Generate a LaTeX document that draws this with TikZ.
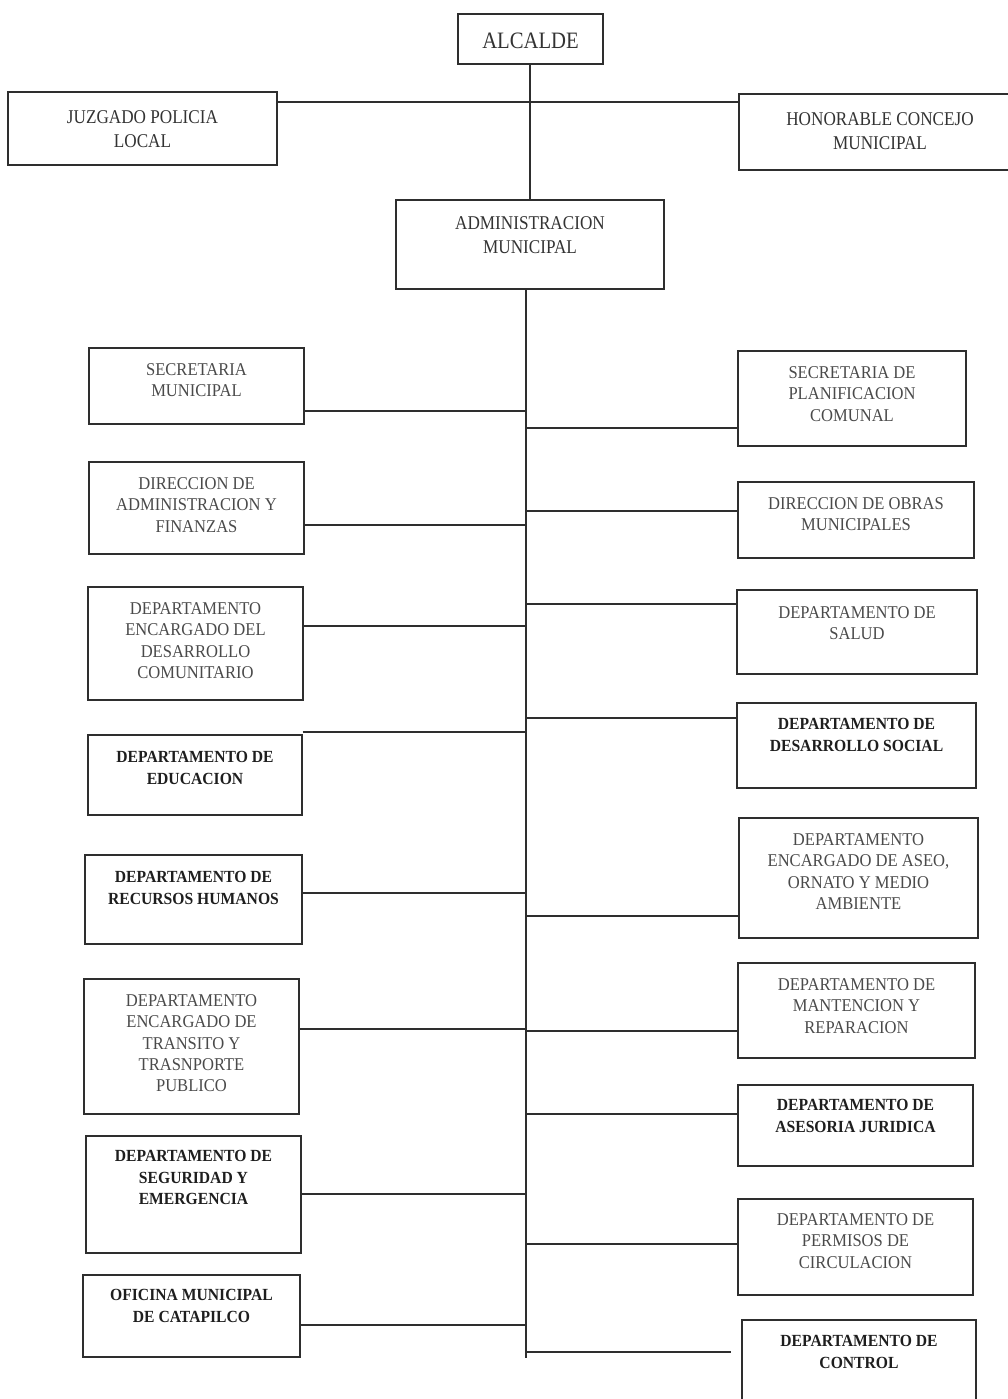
\documentclass[tikz,border=0pt]{standalone}
\usepackage{fontspec}
\setmainfont{Liberation Serif}
\newfontfamily\condfont[FakeStretch=0.88]{Liberation Serif}
\newfontfamily\narrowfont[FakeStretch=0.92]{Liberation Serif}
\definecolor{linec}{HTML}{2E2E2E}
\definecolor{regtext}{HTML}{4A4A4A}
\definecolor{boldtext}{HTML}{1E1E1E}
\definecolor{toptext}{HTML}{333333}
\newcommand\regf{\color{regtext}\narrowfont\fontsize{18}{21.3}\selectfont}
\newcommand\bldf{\color{boldtext}\narrowfont\fontsize{17}{21.3}\selectfont\bfseries}
\newcommand\topf{\color{toptext}\condfont\fontsize{19.5}{24.5}\selectfont}
\newcommand\bigtopf{\color{toptext}\condfont\fontsize{23.5}{27}\selectfont}
\tikzset{
  orgbox/.style={draw=linec, line width=1.4pt, inner sep=0pt, rectangle},
  link/.style={draw=linec, line width=1.3pt},
}
% name, x1, y1, x2, y2, top gap, font, text
\newcommand\orgnode[8]{%
  \node[orgbox] (#1) at ({(#2+#4)/2},{(#3+#5)/2})
    {\parbox[c][\dimexpr #5pt-#3pt\relax][t]{\dimexpr #4pt-#2pt\relax}{#7\centering\vspace*{#6pt}#8\par}};}
\begin{document}
\begin{tikzpicture}[x=1pt,y=-1pt]
\useasboundingbox (0,0) rectangle (1007,1399);
% top level
\orgnode{alc}{458}{14}{603}{64}{19}{\bigtopf}{ALCALDE}
\orgnode{juz}{8}{92}{277}{165}{18.5}{\topf}{JUZGADO POLICIA\\LOCAL}
\orgnode{hon}{739}{94}{1021}{170}{18.5}{\topf}{HONORABLE CONCEJO\\MUNICIPAL}
\orgnode{adm}{396}{200}{664}{289}{16.5}{\topf}{ADMINISTRACION\\MUNICIPAL}
% left column
\orgnode{l1}{89}{348}{304}{424}{15.5}{\regf}{SECRETARIA\\MUNICIPAL}
\orgnode{l2}{89}{462}{304}{554}{15.5}{\regf}{DIRECCION DE\\ADMINISTRACION Y\\FINANZAS}
\orgnode{l3}{88}{587}{303}{700}{15.5}{\regf}{DEPARTAMENTO\\ENCARGADO DEL\\DESARROLLO\\COMUNITARIO}
\orgnode{l4}{88}{735}{302}{815}{16.5}{\bldf}{DEPARTAMENTO DE\\EDUCACION}
\orgnode{l5}{85}{855}{302}{944}{16.5}{\bldf}{DEPARTAMENTO DE\\RECURSOS HUMANOS}
\orgnode{l6}{84}{979}{299}{1114}{15.5}{\regf}{DEPARTAMENTO\\ENCARGADO DE\\TRANSITO Y\\TRASNPORTE\\PUBLICO}
\orgnode{l7}{86}{1136}{301}{1253}{14.5}{\bldf}{DEPARTAMENTO DE\\SEGURIDAD Y\\EMERGENCIA}
\orgnode{l8}{83}{1275}{300}{1357}{14.5}{\bldf}{OFICINA MUNICIPAL\\DE CATAPILCO}
% right column
\orgnode{r1}{738}{351}{966}{446}{15.5}{\regf}{SECRETARIA DE\\PLANIFICACION\\COMUNAL}
\orgnode{r2}{738}{482}{974}{558}{15.5}{\regf}{DIRECCION DE OBRAS\\MUNICIPALES}
\orgnode{r3}{737}{590}{977}{674}{16.5}{\regf}{DEPARTAMENTO DE\\SALUD}
\orgnode{r4}{737}{703}{976}{788}{15.5}{\bldf}{DEPARTAMENTO DE\\DESARROLLO SOCIAL}
\orgnode{r5}{739}{818}{978}{938}{15.5}{\regf}{DEPARTAMENTO\\ENCARGADO DE ASEO,\\ORNATO Y MEDIO\\AMBIENTE}
\orgnode{r6}{738}{963}{975}{1058}{15.5}{\regf}{DEPARTAMENTO DE\\MANTENCION Y\\REPARACION}
\orgnode{r7}{738}{1085}{973}{1166}{14.5}{\bldf}{DEPARTAMENTO DE\\ASESORIA JURIDICA}
\orgnode{r8}{738}{1199}{973}{1295}{14.5}{\regf}{DEPARTAMENTO DE\\PERMISOS DE\\CIRCULACION}
\orgnode{r9}{742}{1320}{976}{1412}{15.5}{\bldf}{DEPARTAMENTO DE\\CONTROL}
% connectors
\coordinate (tbot) at (526,1358);
\coordinate (cend) at ([xshift=-10pt]r9.west);
\draw[link] (juz.east |- 0,102) -- (hon.west |- 0,102);
\draw[link] (alc.south -| adm.north) -- (adm.north);
\draw[link] (adm.south -| tbot) -- (tbot);
\draw[link] (l1.east |- 0,411) -- (tbot |- 0,411);
\draw[link] (l2.east |- 0,525) -- (tbot |- 0,525);
\draw[link] (l3.east |- 0,626) -- (tbot |- 0,626);
\draw[link] (l4.east |- 0,732) -- (tbot |- 0,732);
\draw[link] (l5.east |- 0,893) -- (tbot |- 0,893);
\draw[link] (l6.east |- 0,1029) -- (tbot |- 0,1029);
\draw[link] (l7.east |- 0,1194) -- (tbot |- 0,1194);
\draw[link] (l8.east |- 0,1325) -- (tbot |- 0,1325);
\draw[link] (tbot |- 0,428) -- (r1.west |- 0,428);
\draw[link] (tbot |- 0,511) -- (r2.west |- 0,511);
\draw[link] (tbot |- 0,604) -- (r3.west |- 0,604);
\draw[link] (tbot |- 0,718) -- (r4.west |- 0,718);
\draw[link] (tbot |- 0,916) -- (r5.west |- 0,916);
\draw[link] (tbot |- 0,1031) -- (r6.west |- 0,1031);
\draw[link] (tbot |- 0,1114) -- (r7.west |- 0,1114);
\draw[link] (tbot |- 0,1244) -- (r8.west |- 0,1244);
\draw[link] (tbot |- 0,1352) -- (cend |- 0,1352);
\end{tikzpicture}
\end{document}
